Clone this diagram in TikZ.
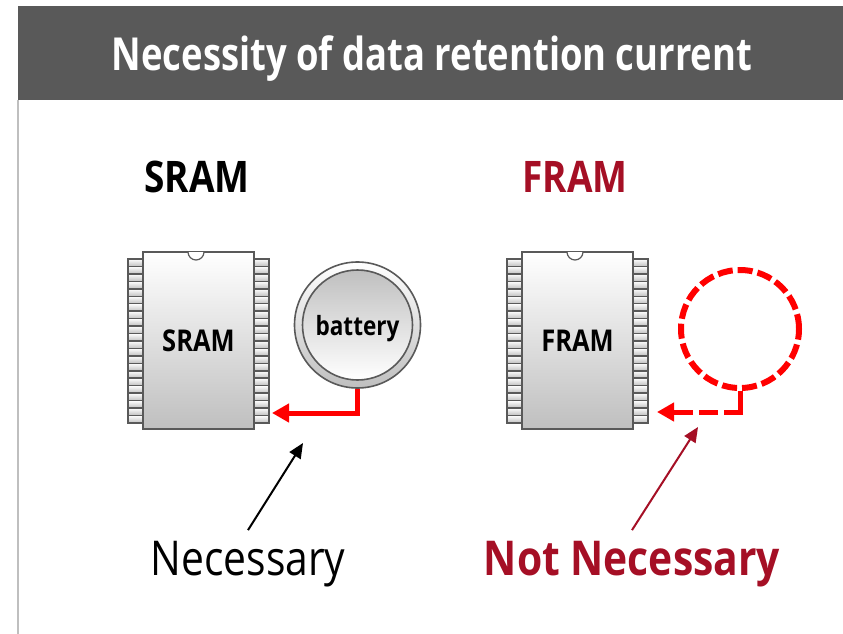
\documentclass[tikz,border=0pt]{standalone}
\usepackage{fontspec}
\setmainfont[FakeStretch=0.85]{Open Sans}
\newfontfamily\titlefont[FakeStretch=0.8]{Open Sans}
\usetikzlibrary{arrows.meta}
\definecolor{titlegray}{HTML}{595959}
\definecolor{framred}{HTML}{A50F25}
\tikzset{
	chipbox/.style={draw=titlegray,line width=1.6pt,top color=white,bottom color=black!25,
		minimum width=111pt,minimum height=177pt,inner sep=0pt,font=\fontsize{30}{30}\selectfont\bfseries},
	pinbox/.style={draw=titlegray,line width=1.5pt,top color=white,bottom color=black!25},
	headlabel/.style={inner sep=0pt,font=\fontsize{43.5}{43.5}\selectfont\bfseries},
	powerline/.style={red,line width=5pt},
	powertip/.style={-{Triangle[length=17pt,width=18pt]}},
}
\begin{document}
\begin{tikzpicture}[x=1pt,y=-1pt]
	\useasboundingbox (0,0) rectangle (843,634);
	\fill[white] (0,0) rectangle (843,634);
	
	% title bar
	\draw[black!25,line width=1.5pt] (18,100) -- (18,634);
	\node (titlebar) [fill=titlegray,minimum width=825pt,minimum height=94pt,inner sep=0pt,anchor=north west] at (18,6) {};
	\node (title) [text=white,inner sep=0pt,font=\titlefont\fontsize{45.5}{45.5}\selectfont\bfseries] at (432,59) {Necessity of data retention current};
	
	\node (sramhead) [headlabel] at (197,177) {SRAM};
	\node (framhead) [headlabel,text=framred] at (575,177) {FRAM};
	
	% pins of both chips
	\foreach \chipx in {143,522}{
		\foreach \i in {0,...,21}{
			\draw[pinbox] (\chipx-15,259+7.45*\i) rectangle ++(15,7.45);
			\draw[pinbox] (\chipx+111,259+7.45*\i) rectangle ++(15,7.45);
		}
	}
	
	\node (sram) [chipbox] at (198.5,340.5) {SRAM};
	\node (fram) [chipbox] at (577.5,340.5) {FRAM};
	\filldraw[draw=titlegray,fill=white,line width=1.2pt] (188,252) arc[start angle=180,end angle=0,radius=8];
	\filldraw[draw=titlegray,fill=white,line width=1.2pt] (567,252) arc[start angle=180,end angle=0,radius=8];
	
	% battery
	\node (ring) [circle,draw=titlegray,line width=1.6pt,top color=white,bottom color=black!25,minimum size=126pt,inner sep=0pt] at (357.5,325) {};
	\node (cell) [circle,draw=titlegray,line width=1.6pt,top color=black!25,bottom color=white,minimum size=110pt,inner sep=0pt] at (357.5,325) {};
	\node (battery) [inner sep=0pt,font=\fontsize{26.5}{26.5}\selectfont\bfseries] at (357.5,329) {battery};
	\node (nocell) [circle,draw=red,line width=6pt,dash pattern=on 15pt off 5pt,minimum size=118pt,inner sep=0pt] at (740,329) {};
	
	\coordinate (srampin) at (272,413);
	\coordinate (framin) at (657,412);
	\coordinate (framtee) at (743,412);
	\coordinate (sramgoal) at (303,443);
	\coordinate (framgoal) at (698,427);
	
	% supply lines
	\draw[powerline,powertip] (ring.south) |- (srampin);
	\draw[powerline] (nocell.south) -- (nocell.south |- framtee);
	\draw[powerline,powertip,dash pattern=on 19pt off 6pt] (framtee) -- (framin);
	
	% bottom labels
	\node (necessary) [inner sep=0pt,outer ysep=11pt,font=\fontsize{48}{48}\selectfont] at (248,564) {Necessary};
	\node (notnecessary) [inner sep=0pt,outer ysep=11pt,text=framred,font=\fontsize{48}{48}\selectfont\bfseries] at (632,564) {Not Necessary};
	\draw[line width=2pt,-{Triangle[length=15pt,width=13pt]}] (necessary.north) -- (sramgoal);
	\draw[framred,line width=2pt,-{Triangle[length=15pt,width=13pt]}] (notnecessary.north) -- (framgoal);
\end{tikzpicture}
\end{document}
